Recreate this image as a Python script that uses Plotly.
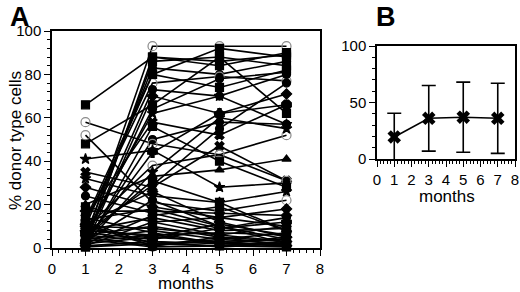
import plotly.graph_objects as go

months = [1, 3, 5, 7]

# Panel A: individual recipients, % donor type cells at months 1, 3, 5, 7
series_values = [
    [4, 93, 93, 93], [66, 88, 86, 89], [2, 86, 88, 84], [6, 83, 80, 86],
    [10, 80, 74, 82], [12, 76, 79, 77], [3, 73, 70, 80], [1, 70, 62, 71],
    [48, 66, 88, 62], [7, 62, 70, 57], [14, 58, 52, 66], [2, 50, 58, 57],
    [58, 48, 43, 52], [3, 44, 62, 66], [20, 33, 36, 41], [35, 28, 47, 31],
    [32, 24, 21, 26], [52, 21, 17, 22], [28, 19, 14, 18], [24, 16, 9, 14],
    [19, 12, 6, 10], [41, 45, 28, 30], [9, 38, 43, 31], [5, 31, 21, 8],
    [11, 26, 12, 5], [13, 18, 10, 4], [8, 14, 8, 9], [6, 10, 5, 3],
    [4, 8, 4, 2], [3, 6, 7, 6], [2, 5, 3, 1], [1, 3, 2, 2],
    [0.5, 2, 1, 0.5], [5, 1, 4, 7], [7, 4, 9, 12], [12, 2, 3, 4],
    [14, 7, 2, 1], [10, 9, 6, 3], [9, 5, 11, 6], [1, 12, 14, 10],
    [2, 15, 19, 8], [4, 0.5, 1, 3], [6, 3, 0.5, 2], [8, 6, 2, 5],
    [11, 1, 5, 1], [3, 22, 10, 2], [0.5, 56, 40, 28], [1, 88, 84, 90],
    [5, 64, 78, 81], [2, 35, 60, 55], [13, 80, 92, 88], [7, 29, 55, 76],
    [17, 17, 16, 15],
]
series_symbols = [
    "circle-open", "square", "square", "circle",
    "square", "circle-open", "circle", "diamond",
    "square", "star", "x", "circle",
    "circle-open", "cross", "triangle-up", "x",
    "star", "circle-open", "diamond", "circle",
    "square", "star", "circle-open", "square",
    "diamond", "circle", "x", "square",
    "circle", "triangle-up", "diamond", "circle",
    "square", "star", "cross", "circle",
    "square", "diamond", "x", "circle",
    "square", "circle", "triangle-up", "diamond",
    "square", "circle", "square", "square",
    "circle", "star", "square", "circle",
    "diamond",
]

# Panel B: mean and SD
mean_values = [19.5, 36, 37, 36]
sd_values = [21, 29, 31, 31]

A_ticks = [0, 1, 2, 3, 4, 5, 6, 7, 8]

fig = go.Figure()

for vals, sym in zip(series_values, series_symbols):
    is_open = sym.endswith("open")
    fig.add_trace(go.Scatter(
        x=months, y=vals, mode="lines+markers",
        line=dict(color="black", width=1.6),
        marker=dict(symbol=sym, size=9 if is_open else 8,
                    color="#8a8a8a" if is_open else "black",
                    line=dict(color="#8a8a8a" if is_open else "black", width=1.2)),
        cliponaxis=False, showlegend=False, xaxis="x", yaxis="y",
    ))

fig.add_trace(go.Scatter(
    x=months, y=mean_values, mode="lines+markers",
    line=dict(color="black", width=1.6),
    marker=dict(symbol="x", size=12, color="black"),
    error_y=dict(type="data", array=sd_values, color="black", thickness=1.6, width=7),
    cliponaxis=False, showlegend=False, xaxis="x2", yaxis="y2",
))

font_family = "Liberation Sans, Arial, sans-serif"
tickfont = dict(family=font_family, size=15, color="black")

common_axis = dict(
    showgrid=False, zeroline=False, showline=True, linecolor="black", linewidth=1.5,
    mirror=True, ticks="outside", tickcolor="black", tickwidth=1.3, ticklen=6,
    tickfont=tickfont, automargin=False,
)

ann_font = dict(family=font_family, size=17, color="black")

fig.update_layout(
    width=520, height=292,
    margin=dict(l=0, r=0, t=0, b=0),
    paper_bgcolor="white", plot_bgcolor="white",
    font=dict(family=font_family, color="black"),
    xaxis=dict(domain=[52/520, 320/520], range=[0, 8], tickvals=A_ticks, anchor="y",
               minor=dict(dtick=0.2, ticklen=3, ticks="outside", tickcolor="black"),
               **common_axis),
    yaxis=dict(domain=[(292-248)/292, (292-31)/292], range=[0, 100], dtick=20, anchor="x",
               minor=dict(dtick=4, ticklen=3, ticks="outside", tickcolor="black"),
               **common_axis),
    xaxis2=dict(domain=[377/520, 515/520], range=[0, 8], tickvals=A_ticks, anchor="y2",
                minor=dict(dtick=0.2, ticklen=3, ticks="outside", tickcolor="black"),
                **common_axis),
    yaxis2=dict(domain=[(292-159)/292, (292-46)/292], range=[0, 100], dtick=50, anchor="x2",
                minor=dict(dtick=10, ticklen=3, ticks="outside", tickcolor="black"),
                **common_axis),
    annotations=[
        dict(text="<b>A</b>", x=8/520, y=1.0, xref="paper", yref="paper",
             xanchor="left", yanchor="top", showarrow=False,
             font=dict(family=font_family, size=27, color="black")),
        dict(text="<b>B</b>", x=374/520, y=1.0, xref="paper", yref="paper",
             xanchor="left", yanchor="top", showarrow=False,
             font=dict(family=font_family, size=27, color="black")),
        dict(text="months", x=186/520, y=(292-283)/292, xref="paper", yref="paper",
             xanchor="center", yanchor="middle", showarrow=False, font=ann_font),
        dict(text="months", x=447/520, y=(292-196)/292, xref="paper", yref="paper",
             xanchor="center", yanchor="middle", showarrow=False, font=ann_font),
        dict(text="% donor type cells", x=15/520, y=(292-141)/292, xref="paper", yref="paper",
             xanchor="center", yanchor="middle", showarrow=False, textangle=-90, font=ann_font),
    ],
)

fig.write_html("out.html", config={"displayModeBar": False},
               post_script="document.body.style.margin='0';")
